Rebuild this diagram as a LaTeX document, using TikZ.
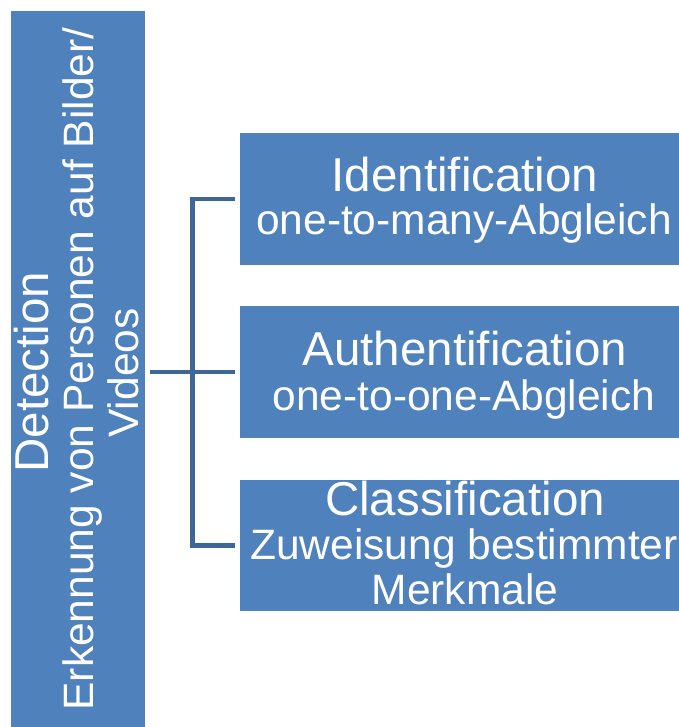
\documentclass[tikz,border=0pt]{standalone}
\usepackage{fontspec}
\setmainfont{Liberation Sans}
\definecolor{boxblue}{HTML}{4F81BD}
\definecolor{linkblue}{HTML}{3F6699}
\begin{document}
\begin{tikzpicture}[x=1pt,y=-1pt,
  box/.style={draw=none, fill=boxblue, rectangle, inner sep=0pt},
  head/.style={text=white, font=\fontsize{47.5}{56}\selectfont, anchor=base, inner sep=0pt},
  sub/.style={text=white, font=\fontsize{42.5}{50}\selectfont, anchor=base, inner sep=0pt},
  conn/.style={draw=linkblue, line width=4.5pt, line join=miter}]
\useasboundingbox (0,0) rectangle (678,727);

% boxes
\node[box, minimum width=134pt, minimum height=722pt] (det) at (78,372) {};
\node[box, minimum width=450pt, minimum height=132pt] (ident) at (465,199) {};
\node[box, minimum width=450pt, minimum height=132pt] (auth) at (465,372) {};
\node[box, minimum width=450pt, minimum height=131pt] (class) at (465,545.5) {};

% vertical labels of the root box
\node[head, rotate=90] (detT) at (48,372) {Detection};
\node[sub, rotate=90] (detS) at (93,369) {Erkennung von Personen auf Bilder/};
\node[sub, rotate=90] (detV) at (138,373) {Videos};

% labels of the branches
\node[head] (identT) at (465,192) {Identification};
\node[sub] (identS) at (464,234) {one-to-many-Abgleich};
\node[head] (authT) at (465,365) {Authentification};
\node[sub] (authS) at (464,410) {one-to-one-Abgleich};
\node[head] (classT) at (465,515) {Classification};
\node[sub] (classS) at (464,559) {Zuweisung bestimmter};
\node[sub] (classM) at (465,604) {Merkmale};

% tree connectors
\coordinate (hub) at (192.5,372);
\draw[conn] ([xshift=-5pt]ident.west) -| (hub) |- ([xshift=-5pt]class.west);
\draw[conn] ([xshift=5pt]det.east) -- ([xshift=-5pt]auth.west);
\end{tikzpicture}
\end{document}
